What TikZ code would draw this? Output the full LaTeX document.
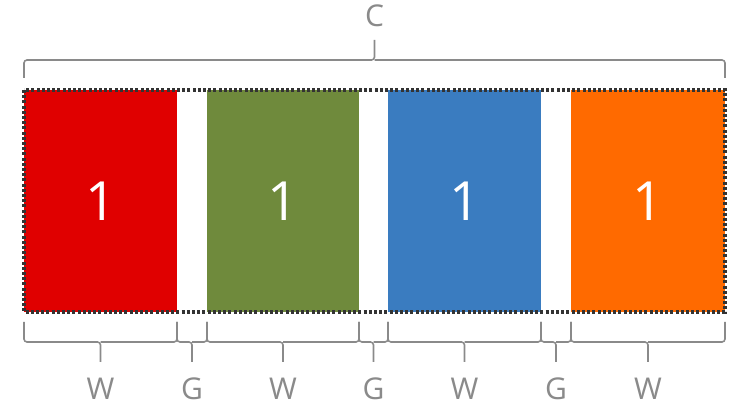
\documentclass[tikz,border=0pt]{standalone}
\usepackage{fontspec}
\setmainfont{Open Sans}
\usetikzlibrary{calc}
\definecolor{cred}{HTML}{E00000}
\definecolor{cgreen}{HTML}{6F8A3C}
\definecolor{cblue}{HTML}{3A7CC0}
\definecolor{corange}{HTML}{FF6A00}
\definecolor{bracegray}{HTML}{8A8A8A}
\begin{document}
\begin{tikzpicture}[x=1pt,y=-1pt,
  block/.style={anchor=north west,inner sep=0pt,outer sep=0pt,text=white,font=\fontsize{54}{54}\selectfont},
  lbl/.style={text=bracegray,font=\fontsize{30}{30}\selectfont,inner sep=0pt},
  brace/.style={draw=bracegray,line width=1.6pt,rounded corners=3pt}]
\useasboundingbox (0,0) rectangle (756,406);
\node[block,fill=cred,minimum width=153,minimum height=222] (b1) at (24,90) {1};
\node[block,fill=cgreen,minimum width=152,minimum height=222] (b2) at (207,90) {1};
\node[block,fill=cblue,minimum width=153,minimum height=222] (b3) at (388,90) {1};
\node[block,fill=corange,minimum width=154,minimum height=222] (b4) at (571,90) {1};
\draw[line width=3.2pt,dash pattern=on 3pt off 2.2pt,black!80] (b1.north west) rectangle (b4.south east);
% top brace
\coordinate (tl) at ([yshift=12pt]b1.north west);
\coordinate (tr) at ([yshift=12pt]b4.north east);
\coordinate (tm) at ($(tl)!0.5!(tr)$);
\draw[brace] (tl) -- ([yshift=18pt]tl) -- ([yshift=18pt]tm) -- ([yshift=38pt]tm);
\draw[brace] (tr) -- ([yshift=18pt]tr) -- ([yshift=18pt]tm);
\node[lbl] (C) at ([yshift=62pt]tm) {C};
% bottom braces
\foreach \a/\b/\t/\n in {b1.south west/b1.south east/W/w1, b1.south east/b2.south west/G/g1, b2.south west/b2.south east/W/w2, b2.south east/b3.south west/G/g2, b3.south west/b3.south east/W/w3, b3.south east/b4.south west/G/g3, b4.south west/b4.south east/W/w4}{
  \coordinate (p) at ([yshift=-10pt]\a);
  \coordinate (q) at ([yshift=-10pt]\b);
  \coordinate (m) at ($(p)!0.5!(q)$);
  \draw[brace] (p) -- ([yshift=-20pt]p) -- ([yshift=-20pt]m) -- ([yshift=-40pt]m);
  \draw[brace] (q) -- ([yshift=-20pt]q) -- ([yshift=-20pt]m);
  \node[lbl] (\n) at ([yshift=-67pt]m) {\t};
}
\end{tikzpicture}
\end{document}
